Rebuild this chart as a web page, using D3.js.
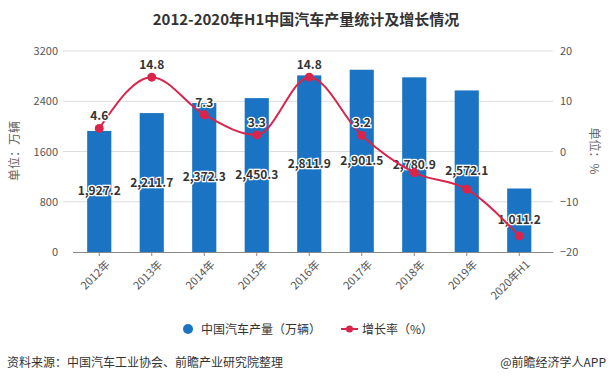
<!DOCTYPE html>
<html><head><meta charset="utf-8">
<script src="https://cdn.jsdelivr.net/npm/d3@7"></script>
<style>body{margin:0;background:#fff;}svg{display:block;font-family:"Microsoft YaHei","Noto Sans CJK SC",sans-serif;}</style>
</head><body><svg id="c" width="612" height="385"></svg>
<script>
const categories = ["2012年","2013年","2014年","2015年","2016年","2017年","2018年","2019年","2020年H1"];
const production = [1927.2,2211.7,2372.3,2450.3,2811.9,2901.5,2780.9,2572.1,1011.2];
const growth = [4.6,14.8,7.3,3.3,14.8,3.2,-4.2,-7.5,-16.8];
const growthLabeled = [true,true,true,true,true,true,false,false,false];
const leftTicks = [0,800,1600,2400,3200];
const rightTicks = [-20,-10,0,10,20];

const svg = d3.select("#c");
const barColor = "#1b74c3", lineColor = "#d9244b";
const plotTop = 51, plotBottom = 252, plotLeft = 73, plotRight = 545.5;

const x = d3.scaleBand().domain(categories).range([plotLeft, plotRight]).paddingInner(0.54).paddingOuter(0.27);
const yL = d3.scaleLinear().domain([0,3200]).range([plotBottom, plotTop]);
const yR = d3.scaleLinear().domain([-20,20]).range([plotBottom, plotTop]);
const cx = d => x(d) + x.bandwidth()/2;

svg.append("text").attr("x",306).attr("y",25).attr("text-anchor","middle")
  .attr("font-size",15).attr("font-weight","bold").attr("fill","#333")
  .text("2012-2020年H1中国汽车产量统计及增长情况");

// grid
svg.append("g").selectAll("line").data(leftTicks.slice(1)).join("line")
  .attr("x1",63).attr("x2",553).attr("y1",d=>yL(d)).attr("y2",d=>yL(d))
  .attr("stroke","#dcdcdc").attr("stroke-width",1);

// left axis
const gL = svg.append("g").attr("transform",`translate(${63},0)`)
  .call(d3.axisLeft(yL).tickValues(leftTicks).tickSize(0).tickPadding(5).tickFormat(d3.format("d")));
gL.select(".domain").remove();
gL.selectAll("text").attr("font-size",11).attr("fill","#555").attr("font-family","Microsoft YaHei, Noto Sans CJK SC, sans-serif");

// right axis
const gR = svg.append("g").attr("transform",`translate(${556},0)`)
  .call(d3.axisRight(yR).tickValues(rightTicks).tickSize(0).tickPadding(4).tickFormat(d3.format("d")));
gR.select(".domain").remove();
gR.selectAll("text").attr("font-size",11).attr("fill","#555").attr("font-family","Microsoft YaHei, Noto Sans CJK SC, sans-serif");

// bars
svg.append("g").selectAll("rect").data(production).join("rect")
  .attr("x",(d,i)=>x(categories[i])).attr("width",x.bandwidth())
  .attr("y",d=>yL(d)).attr("height",d=>plotBottom-yL(d)).attr("fill",barColor);

// x axis
const gX = svg.append("g").attr("transform",`translate(0,${plotBottom})`)
  .call(d3.axisBottom(x).tickSize(4).tickSizeOuter(0));
gX.select(".domain").attr("stroke","#888").attr("d",`M${plotLeft},0.5H${plotRight+8}`);
gX.selectAll(".tick line").attr("stroke","#888");
gX.selectAll("text").attr("font-size",11).attr("fill","#555")
  .attr("font-family","Microsoft YaHei, Noto Sans CJK SC, sans-serif")
  .attr("text-anchor","end").attr("dy","0.3em")
  .attr("transform","translate(4,6) rotate(-45)");

// bar labels
const fmt = d3.format(",.1f");
svg.append("g").selectAll("text").data(production).join("text")
  .attr("x",(d,i)=>cx(categories[i])).attr("y",d=>(yL(d)+plotBottom)/2+4)
  .attr("text-anchor","middle").attr("font-size",12).attr("font-weight","bold")
  .attr("fill","#333").attr("stroke","#fff").attr("stroke-width",2.5).attr("paint-order","stroke")
  .text(d=>fmt(d));

// line
const line = d3.line().x((d,i)=>cx(categories[i])).y(d=>yR(d)).curve(d3.curveMonotoneX);
svg.append("path").datum(growth).attr("d",line).attr("fill","none")
  .attr("stroke",lineColor).attr("stroke-width",2);
svg.append("g").selectAll("circle").data(growth).join("circle")
  .attr("cx",(d,i)=>cx(categories[i])).attr("cy",d=>yR(d)).attr("r",4.5).attr("fill",lineColor);
svg.append("g").selectAll("text").data(growth.map((v,i)=>({v,i})).filter(d=>growthLabeled[d.i])).join("text")
  .attr("x",d=>cx(categories[d.i])).attr("y",d=>yR(d.v)-8)
  .attr("text-anchor","middle").attr("font-size",12).attr("font-weight","bold")
  .attr("fill","#333").attr("stroke","#fff").attr("stroke-width",2.5).attr("paint-order","stroke")
  .text(d=>d.v.toFixed(1));

// axis titles
svg.append("text").attr("transform","translate(19,151) rotate(-90)").attr("text-anchor","middle")
  .attr("font-size",12).attr("fill","#666").text("单位：万辆");
svg.append("text").attr("transform","translate(590,151) rotate(90)").attr("text-anchor","middle")
  .attr("font-size",12).attr("fill","#666").text("单位：%");

// legend
svg.append("circle").attr("cx",188).attr("cy",329).attr("r",5).attr("fill",barColor);
svg.append("text").attr("x",201).attr("y",333.5).attr("font-size",12).attr("fill","#333").text("中国汽车产量（万辆）");
svg.append("line").attr("x1",341).attr("x2",358).attr("y1",329).attr("y2",329).attr("stroke",lineColor).attr("stroke-width",2);
svg.append("circle").attr("cx",349.5).attr("cy",329).attr("r",3.5).attr("fill",lineColor);
svg.append("text").attr("x",362).attr("y",333.5).attr("font-size",12).attr("fill","#333").text("增长率（%）");

// footer
svg.append("text").attr("x",7).attr("y",367).attr("font-size",12).attr("fill","#333").text("资料来源：中国汽车工业协会、前瞻产业研究院整理");
svg.append("text").attr("x",606).attr("y",367).attr("text-anchor","end").attr("font-size",12).attr("fill","#333").text("@前瞻经济学人APP");
</script></body></html>
